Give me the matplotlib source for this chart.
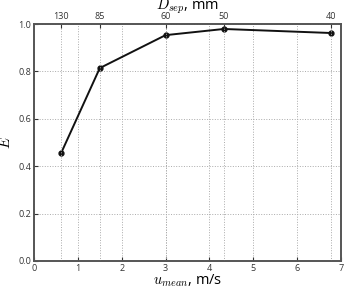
import matplotlib
matplotlib.use("Agg")
import matplotlib.pyplot as plt

u_mean = [0.62, 1.5, 3.0, 4.33, 6.77]
E = [0.456, 0.814, 0.953, 0.979, 0.962]
d_sep_labels = ["130", "85", "60", "50", "40"]
x_ticks = [0, 1, 2, 3, 4, 5, 6, 7]
y_ticks = [0.0, 0.2, 0.4, 0.6, 0.8, 1.0]

plt.rcParams['font.family'] = ['Open Sans', 'DejaVu Sans']
plt.rcParams['mathtext.fontset'] = 'cm'

fig = plt.figure(figsize=(3.46, 2.90), dpi=100)
ax = fig.add_axes([34/346, 29/290, 307/346, 237/290])
ax.plot(u_mean, E, color='#111111', lw=1.4, marker='o', ms=3.5)
ax.set_xlim(0, 7)
ax.set_ylim(0, 1.0)
ax.set_xticks(x_ticks)
ax.set_yticks(y_ticks)
ax.set_yticklabels([f"{v:.1f}" for v in y_ticks])
ax.tick_params(labelsize=6.5, colors='#333333', length=3, direction='in', pad=2)
for s in ax.spines.values():
    s.set_color('#555555')
    s.set_linewidth(1.2)
ax.grid(True, ls=':', color='#aaaaaa', lw=0.7)
ax.set_xlabel('$u_{mean}$, m/s', fontsize=10.5, labelpad=0)
ax.set_ylabel('$E$', fontsize=10.5, labelpad=3)

ax2 = ax.twiny()
ax2.set_xlim(ax.get_xlim())
ax2.set_xticks(u_mean)
ax2.set_xticklabels(d_sep_labels)
ax2.tick_params(labelsize=6.5, colors='#333333', length=3, direction='in', pad=2)
for s in ax2.spines.values():
    s.set_color('#555555')
    s.set_linewidth(1.2)
ax2.grid(True, axis='x', ls=':', color='#aaaaaa', lw=0.7)
ax2.set_xlabel('$D_{sep}$, mm', fontsize=10.5, labelpad=2)

fig.savefig('out.png', dpi=100)
